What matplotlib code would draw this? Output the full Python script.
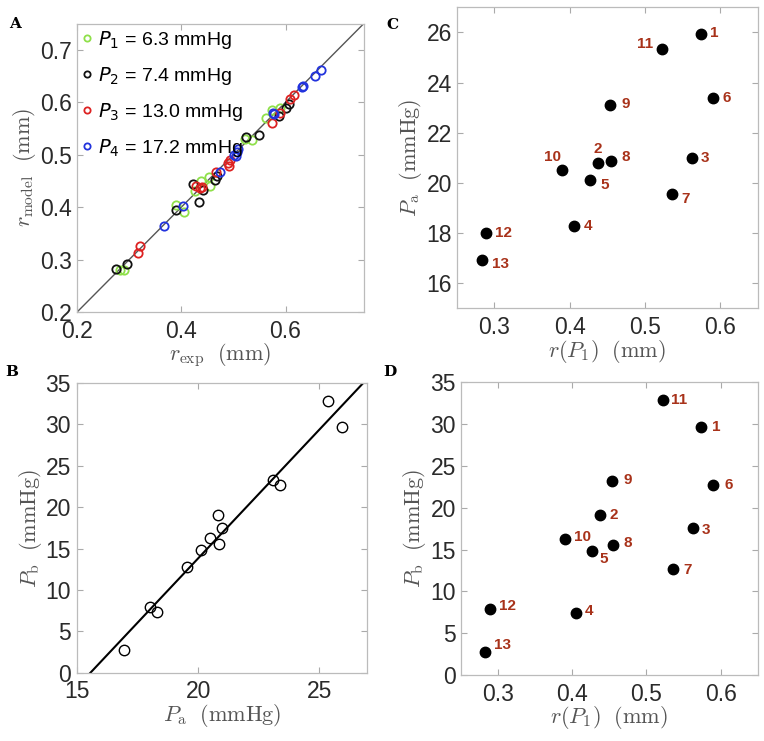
import numpy as np
import matplotlib
matplotlib.use("Agg")
import matplotlib.pyplot as plt

plt.rcParams['font.family'] = ['Liberation Sans', 'DejaVu Sans']
plt.rcParams['mathtext.fontset'] = 'cm'

# vessels 1..13
vessel_ids = [str(i) for i in range(1, 14)]
r_P1 = [0.574, 0.437, 0.562, 0.405, 0.427, 0.590, 0.536, 0.455, 0.454, 0.390, 0.522, 0.289, 0.283]
P_a = [25.93, 20.81, 21.00, 18.29, 20.13, 23.38, 19.54, 20.87, 23.09, 20.50, 25.36, 18.02, 16.92]
P_b = [29.65, 19.12, 17.55, 7.40, 14.82, 22.74, 12.73, 15.58, 23.25, 16.30, 32.85, 7.95, 2.78]

# panel A: measured vs model radius at the four pressures
pressures = [6.3, 7.4, 13.0, 17.2]
r_model_P1 = [0.585, 0.450, 0.570, 0.390, 0.430, 0.590, 0.528, 0.440, 0.457, 0.405, 0.530, 0.280, 0.280]
r_exp_P2 = [0.275, 0.296, 0.389, 0.433, 0.423, 0.441, 0.465, 0.468, 0.524, 0.550, 0.587, 0.607, 0.600]
r_model_P2 = [0.282, 0.292, 0.395, 0.410, 0.445, 0.433, 0.452, 0.459, 0.534, 0.537, 0.573, 0.597, 0.590]
r_exp_P3 = [0.3175, 0.3206, 0.428, 0.436, 0.440, 0.466, 0.490, 0.4915, 0.493, 0.574, 0.590, 0.608, 0.617]
r_model_P3 = [0.3125, 0.325, 0.440, 0.436, 0.438, 0.468, 0.484, 0.478, 0.490, 0.560, 0.580, 0.606, 0.614]
r_exp_P4 = [0.367, 0.404, 0.4735, 0.505, 0.507, 0.509, 0.502, 0.576, 0.578, 0.632, 0.633, 0.656, 0.669]
r_model_P4 = [0.3645, 0.402, 0.467, 0.498, 0.505, 0.511, 0.500, 0.580, 0.578, 0.629, 0.632, 0.650, 0.661]

series_A = [(r_P1, r_model_P1, '#8fe04a'),
            (r_exp_P2, r_model_P2, '#111111'),
            (r_exp_P3, r_model_P3, '#dd2222'),
            (r_exp_P4, r_model_P4, '#2233dd')]

# label offsets (points) for the vessel numbers in C and D, vessel order 1..13
offs_C = [(9.5, 1.2), (0, 9.5), (9.8, 0), (10.3, 0), (10.5, -4), (10.3, 0), (9.8, -3.2),
          (10.3, 3.3), (10.8, 1.2), (-7, 9.3), (-11.8, 3.3), (12.8, -0.5), (13.5, -2.6)]
offs_D = [(11, 0), (10, 0), (9.8, -0.9), (9.8, 1.4), (8.3, -6), (11, 0), (10.3, -0.7),
          (10.8, 1.2), (11, 0.7), (12.8, 1.2), (11.8, 0), (12.8, 1.9), (12.2, 5)]

tick_kw = dict(direction='in', top=True, right=True, length=4, width=0.8,
               color='#aaaaaa', labelsize=16.5, labelcolor='#2a2a2a', pad=3.5)
lab_col = '#555555'
num_col = '#a8321a'

fig = plt.figure(figsize=(7.64, 7.41), dpi=100)
axA = fig.add_axes([0.101, 0.579, 0.375, 0.389])
axC = fig.add_axes([0.598, 0.584, 0.394, 0.406])
axB = fig.add_axes([0.101, 0.092, 0.380, 0.391])
axD = fig.add_axes([0.603, 0.089, 0.389, 0.395])

for ax in (axA, axB, axC, axD):
    ax.tick_params(**tick_kw)
    ax.tick_params(axis='x', pad=5.5)
    for s in ax.spines.values():
        s.set_color('#bbbbbb')
        s.set_linewidth(0.9)
axB.tick_params(axis='y', pad=4.5)

# A
axA.plot([0.2, 0.75], [0.2, 0.75], color='#555555', lw=1.0, zorder=1)
for (xs, ys, c), p, k in zip(series_A, pressures, range(1, 5)):
    axA.plot(xs, ys, 'o', mfc='none', mec=c, ms=6, mew=1.3,
             label=r'$P_{%d}$ = %.1f mmHg' % (k, p), zorder=2)
axA.set_xlim(0.2, 0.75)
axA.set_ylim(0.2, 0.75)
axA.set_xticks([0.2, 0.4, 0.6])
axA.set_yticks([0.2, 0.3, 0.4, 0.5, 0.6, 0.7])
axA.set_xlabel(r'$r_{\mathrm{exp}}\ \ (\mathrm{mm})$', fontsize=16, color=lab_col, labelpad=-1)
axA.set_ylabel(r'$r_{\mathrm{model}}\ \ (\mathrm{mm})$', fontsize=16, color=lab_col, labelpad=2)
leg = axA.legend(loc='upper left', frameon=False, fontsize=14, handlelength=0.5,
                 handletextpad=0.3, borderaxespad=0.1, labelspacing=0.72,
                 borderpad=0.15, markerscale=0.75)
for t in leg.get_texts():
    t.set_math_fontfamily('dejavusans')

# B
axB.plot(P_a, P_b, 'o', mfc='none', mec='black', ms=7.5, mew=1.0)
fit = np.polyfit(P_a, P_b, 1)
xl = np.array([15, 27])
axB.plot(xl, np.polyval(fit, xl), color='black', lw=1.5)
axB.set_xlim(15, 27)
axB.set_ylim(0, 35)
axB.set_xticks([15, 20, 25])
axB.set_yticks(range(0, 36, 5))
axB.set_xlabel(r'$P_{\mathrm{a}}\ \ (\mathrm{mmHg})$', fontsize=16, color=lab_col, labelpad=-1)
axB.set_ylabel(r'$P_{\mathrm{b}}\ \ (\mathrm{mmHg})$', fontsize=16, color=lab_col, labelpad=1)

# C
axC.plot(r_P1, P_a, 'o', color='black', ms=7.5)
for x, y, n, o in zip(r_P1, P_a, vessel_ids, offs_C):
    axC.annotate(n, (x, y), xytext=o, textcoords='offset points', ha='center', va='center',
                 fontsize=11, fontweight='bold', color=num_col)
axC.set_xlim(0.25, 0.65)
axC.set_ylim(15, 27)
axC.set_xticks([0.3, 0.4, 0.5, 0.6])
axC.set_yticks(range(16, 27, 2))
axC.set_xlabel(r'$r(P_1)\ \ (\mathrm{mm})$', fontsize=16, color=lab_col, labelpad=-1)
axC.set_ylabel(r'$P_{\mathrm{a}}\ \ (\mathrm{mmHg})$', fontsize=16, color=lab_col, labelpad=2)

# D
axD.plot(r_P1, P_b, 'o', color='black', ms=7.5)
for x, y, n, o in zip(r_P1, P_b, vessel_ids, offs_D):
    axD.annotate(n, (x, y), xytext=o, textcoords='offset points', ha='center', va='center',
                 fontsize=11, fontweight='bold', color=num_col)
axD.set_xlim(0.25, 0.65)
axD.set_ylim(0, 35)
axD.set_xticks([0.3, 0.4, 0.5, 0.6])
axD.set_yticks(range(0, 36, 5))
axD.set_xlabel(r'$r(P_1)\ \ (\mathrm{mm})$', fontsize=16, color=lab_col, labelpad=-1)
axD.set_ylabel(r'$P_{\mathrm{b}}\ \ (\mathrm{mmHg})$', fontsize=16, color=lab_col, labelpad=2)

for lbl, x, y in [('A', 15, 24), ('C', 392, 25), ('B', 12, 372), ('D', 390, 372)]:
    fig.text(x / 764, 1 - y / 741, lbl, fontsize=11, fontweight='bold',
             family='DejaVu Serif', ha='center', va='center')

fig.savefig('out.png', dpi=100)
